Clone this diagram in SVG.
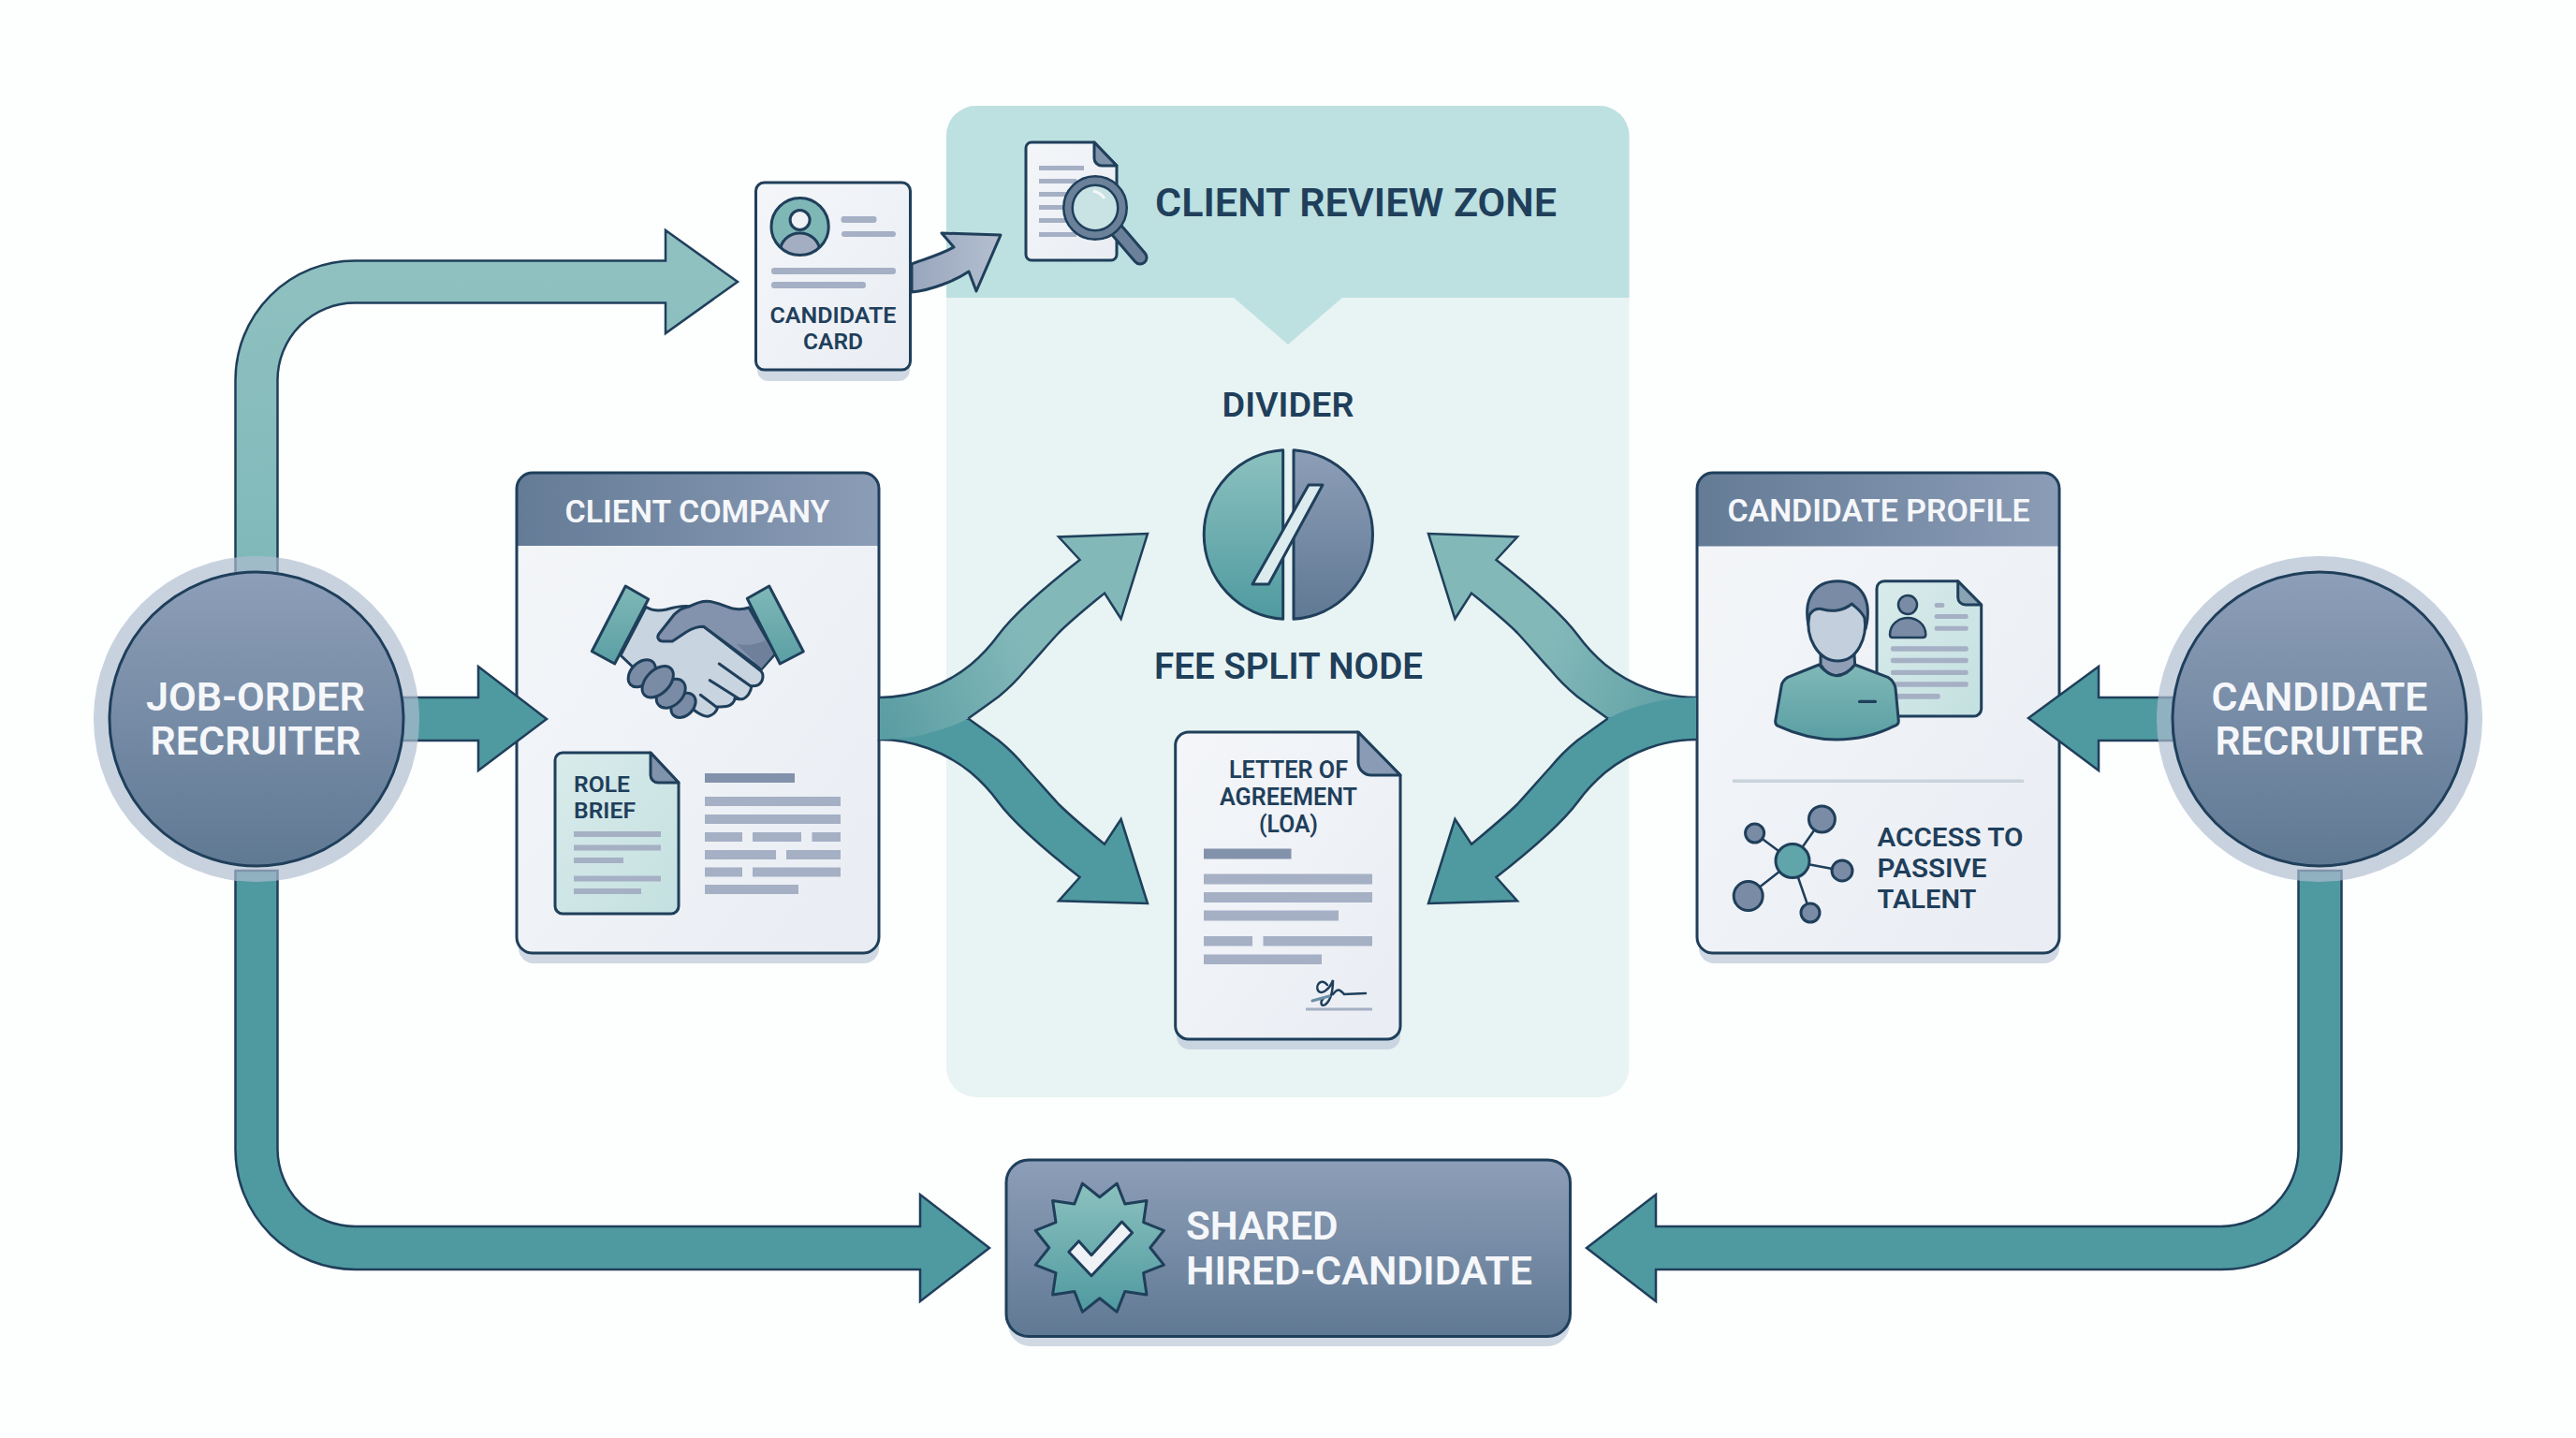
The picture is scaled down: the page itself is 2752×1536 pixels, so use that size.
<svg xmlns="http://www.w3.org/2000/svg" width="2752" height="1536" viewBox="0 0 2752 1536">
<defs>
<linearGradient id="slateV" x1="0" y1="0" x2="0" y2="1"><stop offset="0" stop-color="#8d9eb8"/><stop offset="1" stop-color="#607993"/></linearGradient>
<linearGradient id="slateH" x1="0" y1="0" x2="1" y2="0"><stop offset="0" stop-color="#647b96"/><stop offset="1" stop-color="#8b9cb6"/></linearGradient>
<linearGradient id="tealV" x1="0" y1="0" x2="0" y2="1"><stop offset="0" stop-color="#8cc1bf"/><stop offset="1" stop-color="#4f9aa0"/></linearGradient>
<linearGradient id="tealB" x1="0" y1="0" x2="0" y2="1"><stop offset="0" stop-color="#80b8b7"/><stop offset="1" stop-color="#5a9fa4"/></linearGradient>
<linearGradient id="tealTop" gradientUnits="userSpaceOnUse" x1="0" y1="278" x2="0" y2="630"><stop offset="0" stop-color="#8fc1c0"/><stop offset="1" stop-color="#7fb8b9"/></linearGradient>
<linearGradient id="forkLight" gradientUnits="userSpaceOnUse" x1="940" y1="770" x2="1100" y2="700"><stop offset="0" stop-color="#5a9da3"/><stop offset="1" stop-color="#83b8b9"/></linearGradient>
<linearGradient id="mint" x1="0" y1="0" x2="1" y2="1"><stop offset="0" stop-color="#d9ebeb"/><stop offset="1" stop-color="#c4e0e0"/></linearGradient>
<linearGradient id="paper" x1="0" y1="0" x2="1" y2="1"><stop offset="0" stop-color="#f4f6f9"/><stop offset="1" stop-color="#e9edf3"/></linearGradient>
<linearGradient id="lav" x1="0" y1="0" x2="1" y2="0"><stop offset="0" stop-color="#98a6bd"/><stop offset="1" stop-color="#b4bfd0"/></linearGradient>
<clipPath id="avClip"><ellipse cx="854.6" cy="242" rx="30" ry="30"/></clipPath>
<style>
text{font-family:"Roboto","Liberation Sans",sans-serif;font-weight:600;fill:#1f3f5b}
.w{fill:#f5f7fa}
.m{text-anchor:middle}
.o{stroke:#1f3f5b;stroke-width:3;stroke-linejoin:round}
.n{fill:none;stroke:#1f3f5b;stroke-width:3;stroke-linejoin:round;stroke-linecap:round}
.ol{stroke:#1f3f5b;stroke-width:2.5;stroke-linejoin:miter}
.ln{fill:none;stroke:#1f3f5b;stroke-width:2.5;stroke-linejoin:miter}
.bar{fill:#a5b0c5}
.bar2{fill:#8392ab}
.sh{fill:#cfd8e3}
.ring{fill:#aebdd0;fill-opacity:.68}
</style>
</defs>
<rect width="2752" height="1536" fill="#fdfefe"/>

<g id="client-review-zone">
<rect x="1011" y="113" width="729.500" height="1059" rx="32" fill="#e8f4f3"/>
<path d="M1011 318V145a32 32 0 0 1 32-32H1708.500a32 32 0 0 1 32 32V318H1434L1376 368L1318 318Z" fill="#bde0e1"/>
<text x="1234" y="231" font-size="43" textLength="429" lengthAdjust="spacingAndGlyphs">CLIENT REVIEW ZONE</text>
<g id="review-icon">
<path class="o" d="M1096 158a6 6 0 0 1 6-6H1169L1193 177V272a6 6 0 0 1-6 6H1102a6 6 0 0 1-6-6Z" fill="url(#paper)"/>
<path class="o" d="M1169 152L1193 177H1177a8 8 0 0 1-8-8Z" fill="#7f93aa"/>
<rect class="bar" x="1110" y="177" width="48" height="5"/><rect class="bar" x="1110" y="191" width="40" height="5"/><rect class="bar" x="1110" y="205" width="30" height="5"/><rect class="bar" x="1110" y="219" width="26" height="5"/><rect class="bar" x="1110" y="233" width="30" height="5"/><rect class="bar" x="1110" y="248" width="40" height="5"/>
<path d="M1194 247L1218 275" stroke="#1f3f5b" stroke-width="17" stroke-linecap="round"/>
<path d="M1194 247L1218 275" stroke="#6b8199" stroke-width="11" stroke-linecap="round"/>
<circle cx="1170" cy="222" r="29" fill="#c9e3e4" stroke="#1f3f5b" stroke-width="12"/>
<circle cx="1170" cy="222" r="29" fill="none" stroke="#6b8199" stroke-width="7"/>
<path d="M1168 204a19 19 0 0 1 12 8" fill="none" stroke="#f4f7fa" stroke-width="3"/>
</g>
</g>

<g id="candidate-card">
<rect class="sh" x="809" y="210" width="163" height="197" rx="12"/>
<rect class="o" x="807.500" y="195" width="165" height="200" rx="9" fill="url(#paper)"/>
<g clip-path="url(#avClip)"><circle cx="854.600" cy="242" r="31" fill="#7fb7b6"/><ellipse cx="854.600" cy="268" rx="21" ry="19" fill="#a4aec2" stroke="#1f3f5b" stroke-width="3"/></g>
<ellipse cx="854.600" cy="242" rx="30.600" ry="30.600" fill="none" stroke="#1f3f5b" stroke-width="3"/>
<circle cx="854.600" cy="235" r="10.500" fill="#eef1f6" stroke="#1f3f5b" stroke-width="3"/>
<rect class="bar" x="898.500" y="231" width="38" height="7" rx="3"/><rect class="bar" x="899" y="247" width="58" height="6" rx="3"/><rect class="bar" x="824" y="286" width="133" height="7" rx="3"/><rect class="bar" x="824" y="301" width="101" height="7" rx="3"/>
<text class="m" x="890" y="345" font-size="23.500" textLength="135" lengthAdjust="spacingAndGlyphs">CANDIDATE</text>
<text class="m" x="890" y="373" font-size="23.500" textLength="64" lengthAdjust="spacingAndGlyphs">CARD</text>
</g>

<g id="client-company">
<rect class="sh" x="554" y="520" width="385" height="509" rx="16"/>
<rect x="552" y="505" width="387" height="513" rx="17" fill="url(#paper)"/>
<path d="M552 583V522a17 17 0 0 1 17-17H922a17 17 0 0 1 17 17V583Z" fill="url(#slateH)"/>
<rect class="o" x="552" y="505" width="387" height="513" rx="17" fill="none"/>
<text class="w m" x="745" y="557.500" font-size="33" textLength="283" lengthAdjust="spacingAndGlyphs">CLIENT COMPANY</text>
<g id="handshake">
<path class="n" style="fill:#c8d4e0" d="M690 648.300C696 652 704 653 712 651C722 648 730 647 737 647.700L753 670L813 716.700C816 720 816 728 810 731.700C807 733 805 733 802.700 732.700C803 737 799 745 793 746.700C790 747 787 747 785 746C785 750 781 753 778 754C774 755 770 755 766.700 755C766 759 763 763 757 765C752 766 746 762 740.700 758L676.700 713L663 700Z"/>
<path class="n" style="fill:#8393ad" d="M800 649C794 651 788 651 783 650C775 648 765 642.300 755 642.300C748 642.300 742 645 736.700 647.700C727 650 725 652 720 656.700L704 677C701 681 704 685 708.300 685H718.300L733.300 675C740 671 746 669.300 751.700 669.300L813.300 715L828.300 698.300Z"/>
<path d="M787 688C800 690 810 688 817 684L827 698L813.300 714Z" fill="#6f809b"/>
<path class="n" d="M768.300 709L801.700 732.700M758.300 726.700L790 746.700M748.300 742.300L765 755"/>
<g fill="#7a8ba5" stroke="#1f3f5b" stroke-width="3"><ellipse cx="730" cy="753.300" rx="15" ry="11" transform="rotate(-45 730 753.300)"/><ellipse cx="716.700" cy="740.700" rx="18" ry="12.500" transform="rotate(-45 716.700 740.700)"/><ellipse cx="685.700" cy="719.300" rx="17" ry="11.500" transform="rotate(-45 685.700 719.300)"/><ellipse cx="702.700" cy="728.300" rx="20" ry="12.500" transform="rotate(-45 702.700 728.300)"/></g>
<path class="o" fill="url(#tealB)" d="M668.300 626L692.700 640L656.700 709L632.300 695.700Z"/>
<path class="o" fill="url(#tealB)" d="M821.700 626L798.300 639.300L833.300 709L858.300 696Z"/>
</g>
<g id="role-brief">
<path class="o" d="M593 812a8 8 0 0 1 8-8H695L725 836V968a8 8 0 0 1-8 8H601a8 8 0 0 1-8-8Z" fill="url(#mint)"/>
<path class="o" d="M695 804L725 836H703a8 8 0 0 1-8-8Z" fill="#7f93aa"/>
<text x="613" y="845.500" font-size="24" textLength="60" lengthAdjust="spacingAndGlyphs">ROLE</text><text x="613" y="873.500" font-size="24" textLength="66" lengthAdjust="spacingAndGlyphs">BRIEF</text>
<rect class="bar" x="613" y="888" width="93" height="6"/><rect class="bar" x="613" y="902.500" width="93" height="6"/><rect class="bar" x="613" y="916" width="53" height="6"/><rect class="bar" x="613" y="935.500" width="93" height="6"/><rect class="bar" x="613" y="949" width="72" height="6"/>
</g>
<rect class="bar2" x="753" y="826" width="96" height="10"/>
<rect class="bar" x="753" y="851" width="145" height="10"/><rect class="bar" x="753" y="870" width="145" height="10"/>
<rect class="bar" x="753" y="889" width="40" height="10"/><rect class="bar" x="804" y="889" width="52" height="10"/><rect class="bar" x="867.500" y="889" width="30.500" height="10"/>
<rect class="bar" x="753" y="908" width="76" height="10"/><rect class="bar" x="840" y="908" width="58" height="10"/>
<rect class="bar" x="753" y="926.500" width="40" height="10"/><rect class="bar" x="804" y="926.500" width="94" height="10"/>
<rect class="bar" x="753" y="945" width="100" height="10"/>
</g>

<g id="candidate-profile">
<rect class="sh" x="1815" y="520" width="385" height="509" rx="16"/>
<rect x="1813" y="505" width="387" height="513" rx="17" fill="url(#paper)"/>
<path d="M1813 583.500V522a17 17 0 0 1 17-17H2183a17 17 0 0 1 17 17V583.500Z" fill="url(#slateH)"/>
<rect class="o" x="1813" y="505" width="387" height="513" rx="17" fill="none"/>
<text class="w m" x="2007" y="557" font-size="33" textLength="323" lengthAdjust="spacingAndGlyphs">CANDIDATE PROFILE</text>
<g id="profile-doc">
<path class="o" d="M2005 628.700a8 8 0 0 1 8-8H2091.700L2116.700 646V757a8 8 0 0 1-8 8H2013a8 8 0 0 1-8-8Z" fill="url(#mint)"/>
<path class="o" d="M2091.700 620.700L2116.700 646H2100a8 8 0 0 1-8.300-8Z" fill="#8aa3b3"/>
<circle cx="2038" cy="646" r="10" fill="#7a8ba5" stroke="#1f3f5b" stroke-width="2.500"/>
<path d="M2019 678C2019 667 2028 660 2038 660C2048 660 2057.300 667 2057.300 678C2057.300 680 2056 681 2054 681H2022C2020 681 2019 680 2019 678Z" fill="#7a8ba5" stroke="#1f3f5b" stroke-width="2.500"/>
<g class="bar"><rect x="2066.700" y="644" width="10.600" height="5" rx="2"/><rect x="2066.700" y="656" width="36" height="5" rx="2"/><rect x="2066.700" y="668.700" width="36" height="5" rx="2"/><rect x="2020" y="690.300" width="82.700" height="5.400" rx="2"/><rect x="2020" y="702.700" width="82.700" height="5.600" rx="2"/><rect x="2020" y="715.700" width="82.700" height="5.300" rx="2"/><rect x="2020" y="728.300" width="82.700" height="5.400" rx="2"/><rect x="2020" y="741" width="52.700" height="5.700" rx="2"/></g>
</g>
<g id="person">
<path class="o" fill="#8f9eb5" d="M1945 695V710C1950 718 1955 721.700 1961.700 721.700C1970 721.700 1977 716 1981.700 710L1980.700 695Z"/>
<path class="o" d="M1943.300 710L1910 723.300C1906 726 1904 729 1903.300 731.700L1896.700 770C1896.500 773 1898 775 1900 775.700C1920 785 1940 790 1961.700 790C1985 790 2005 785 2023.300 775.700C2026 775 2028.300 773 2028.300 770L2025 735C2024 730 2021 726 2016.700 723.300L1981.700 710C1977 716 1970 721.700 1961.700 721.700C1955 721.700 1950 718 1943.300 710Z" fill="url(#tealB)"/>
<path class="o" fill="#7a8ba5" d="M1933 672C1925 640 1938 620.700 1963.300 620.700C1988 620.700 2001 640 1993 672Z"/>
<path class="o" fill="#c3cfdc" d="M1933 657C1937 650 1942 649 1948 651C1958 654 1970 652 1978.300 645C1984 650 1988 652 1992 660C1995 680 1985 706 1963.300 706C1942 706 1928 680 1933 657Z"/>
<rect x="1985" y="747.700" width="20" height="3.200" rx="1.500" fill="#1f3f5b"/>
</g>
<rect x="1851" y="832.500" width="311" height="3.500" fill="#c9d3dc"/>
<g id="network">
<g stroke="#1f3f5b" stroke-width="2.500"><path d="M1915 920L1946.400 875M1915 920L1874.600 890M1915 920L1968 930M1915 920L1867.700 957M1915 920L1934 975"/></g>
<g fill="#7a8ba5" stroke="#1f3f5b" stroke-width="3"><circle cx="1946.400" cy="875" r="14"/><circle cx="1874.600" cy="890" r="10"/><circle cx="1968" cy="930" r="11"/><circle cx="1867.700" cy="957" r="15.500"/><circle cx="1934" cy="975" r="10"/></g>
<circle cx="1915" cy="919.600" r="18" fill="#5fa5a9" stroke="#1f3f5b" stroke-width="3"/>
</g>
<text x="2005.500" y="903.500" font-size="28" textLength="156" lengthAdjust="spacingAndGlyphs">ACCESS TO</text><text x="2005.500" y="936.500" font-size="28" textLength="117" lengthAdjust="spacingAndGlyphs">PASSIVE</text><text x="2005.500" y="969.500" font-size="28" textLength="106" lengthAdjust="spacingAndGlyphs">TALENT</text>
</g>

<g id="fee-split">
<text class="m" x="1376" y="445" font-size="37.500" textLength="141" lengthAdjust="spacingAndGlyphs">DIVIDER</text>
<path class="o" fill="url(#tealV)" d="M1370.700 480.700A90.500 90.500 0 0 0 1370.700 661.300Z"/>
<path class="o" fill="url(#slateV)" d="M1382 480.700A90.500 90.500 0 0 1 1382 661.300Z"/>
<path class="o" fill="#dcecee" d="M1398 518H1413L1355.400 624H1338Z"/>
<text class="m" x="1376.500" y="725" font-size="38" textLength="287" lengthAdjust="spacingAndGlyphs">FEE SPLIT NODE</text>
</g>

<g id="loa">
<rect x="1257" y="860" width="239" height="261" rx="14" fill="#c9d6e2"/>
<path class="o" d="M1255.700 796a14 14 0 0 1 14-14H1451L1496 828V1096a14 14 0 0 1-14 14H1269.700a14 14 0 0 1-14-14Z" fill="url(#paper)"/>
<path class="o" d="M1451 782L1496 828H1465a14 14 0 0 1-14-14Z" fill="#8a9bb5"/>
<text class="m" x="1376.500" y="831" font-size="25" textLength="127" lengthAdjust="spacingAndGlyphs">LETTER OF</text><text class="m" x="1376.500" y="859.500" font-size="25" textLength="147" lengthAdjust="spacingAndGlyphs">AGREEMENT</text><text class="m" x="1376.500" y="888.500" font-size="25" textLength="63" lengthAdjust="spacingAndGlyphs">(LOA)</text>
<rect class="bar2" x="1286" y="906.500" width="93.500" height="11"/>
<rect class="bar" x="1286" y="933.500" width="180" height="11"/><rect class="bar" x="1286" y="953" width="180" height="11"/><rect class="bar" x="1286" y="972.500" width="144" height="11"/>
<rect class="bar" x="1286" y="1000" width="52" height="10.500"/><rect class="bar" x="1349.500" y="1000" width="116.500" height="10.500"/><rect class="bar" x="1286" y="1019.500" width="126" height="10.500"/>
<path d="M1418 1052C1412 1044 1405 1052 1408 1058C1411 1063 1420 1058 1424 1047C1424 1058 1422 1068 1416 1073C1411 1076 1410 1070 1414 1066M1424 1062C1430 1054 1432 1058 1436 1062L1459 1061" fill="none" stroke="#1f3f5b" stroke-width="2.500" stroke-linecap="round"/>
<path d="M1402 1069L1420 1064" stroke="#6b8fa5" stroke-width="3" stroke-linecap="round"/>
<rect class="bar" x="1395" y="1076.500" width="71" height="3"/>
</g>

<g id="shared-hired-candidate">
<rect class="sh" x="1077" y="1255" width="600" height="183" rx="24"/>
<rect class="o" x="1075" y="1239" width="602.500" height="188.500" rx="24" fill="url(#slateV)"/>
<path class="o" fill="url(#tealV)" d="M1156.400 1264.100L1174.800 1278.700L1193.200 1264.100L1201.800 1286L1225 1282.500L1221.600 1305.700L1243.400 1314.300L1228.800 1332.700L1243.400 1351.100L1221.600 1359.700L1225 1382.900L1201.800 1379.400L1193.200 1401.300L1174.800 1386.700L1156.400 1401.300L1147.800 1379.400L1124.600 1382.900L1128 1359.700L1106.200 1351.100L1120.800 1332.700L1106.200 1314.300L1128 1305.700L1124.600 1282.500L1147.800 1286Z"/>
<path class="o" fill="#eef2f6" d="M1198.500 1305L1209.600 1316.700L1166 1362.700L1141.800 1337.300L1152.500 1325.700L1166 1340.700Z"/>
<text class="w" x="1267" y="1324" font-size="42" textLength="162.500" lengthAdjust="spacingAndGlyphs">SHARED</text><text class="w" x="1267" y="1371.500" font-size="42" textLength="370" lengthAdjust="spacingAndGlyphs">HIRED-CANDIDATE</text>
</g>

<g id="connectors">
<path id="c-top" class="ol" fill="url(#tealTop)" d="M251.500 630V406A127.500 127.500 0 0 1 379 278.500H711V246L788 301L711 356V323.500H379A82.500 82.500 0 0 0 296.500 406V630Z"/>
<path id="c-bottom-left" class="ol" fill="#4f9aa0" d="M251.500 930V1228A128 128 0 0 0 379.500 1356H983V1390L1057 1333L983 1276V1310H379.500A83 83 0 0 1 296.500 1228V930Z"/>
<path id="c-bottom-right" class="ol" fill="#4f9aa0" d="M2455.500 930V1228A83 83 0 0 1 2372.500 1310H1769V1276L1695 1333L1769 1390V1356H2372.500A128 128 0 0 0 2501.500 1228V930Z"/>
<path id="c-left" class="ol" fill="#4f9aa0" d="M430 745H511V712L584 768L511 823V791H430Z"/>
<path id="c-right" class="ol" fill="#4f9aa0" d="M2322 745H2242V712L2167 767L2242 823V791H2322Z"/>
<path id="c-card" class="o" fill="url(#lav)" d="M974 282C987 277 1005 272 1019 264L1006 249L1069 251L1043 311L1035 290C1020 300 995 310 974 312Z"/>
<g id="fork-left">
<path class="ol" fill="#4f9aa0" d="M940 790C975 790 1010 803 1037 825C1050 836 1058 845 1066 856C1080 875 1110 903 1153.600 937L1131 962.300L1226 965L1197.600 875L1180 901.700C1160 885 1145 873 1131 859C1118 845 1108 833 1096 820C1087 809 1078 800 1067 791C1056 783 1045 775 1034.400 767.400L960 770Z"/>
<path fill="url(#forkLight)" d="M940 745C975 745 1010 732 1037 710C1050 699 1058 690 1066 679C1080 660 1110 632 1153.600 598L1131 573.500L1226 570L1197.600 661L1180 633.600C1160 650 1145 662 1131 676C1118 690 1108 702 1096 715C1087 726 1078 735 1067 744C1056 752 1045 760 1034.400 767.400C1010 780 975 790 940 790Z"/>
<path class="ln" d="M940 745C975 745 1010 732 1037 710C1050 699 1058 690 1066 679C1080 660 1110 632 1153.600 598L1131 573.500L1226 570L1197.600 661L1180 633.600C1160 650 1145 662 1131 676C1118 690 1108 702 1096 715C1087 726 1078 735 1067 744C1056 752 1045 760 1034.400 767.400"/>
</g>
<g id="fork-right" transform="matrix(-1 0 0 1 2752 0)">
<path class="ol" fill="url(#forkLight)" d="M940 745C975 745 1010 732 1037 710C1050 699 1058 690 1066 679C1080 660 1110 632 1153.600 598L1131 573.500L1226 570L1197.600 661L1180 633.600C1160 650 1145 662 1131 676C1118 690 1108 702 1096 715C1087 726 1078 735 1067 744C1056 752 1045 760 1034.400 767.400L960 770Z"/>
<path fill="#4f9aa0" d="M940 790C975 790 1010 803 1037 825C1050 836 1058 845 1066 856C1080 875 1110 903 1153.600 937L1131 962.300L1226 965L1197.600 875L1180 901.700C1160 885 1145 873 1131 859C1118 845 1108 833 1096 820C1087 809 1078 800 1067 791C1056 783 1045 775 1034.400 767.400C1010 755 975 745 940 745Z"/>
<path class="ln" d="M940 790C975 790 1010 803 1037 825C1050 836 1058 845 1066 856C1080 875 1110 903 1153.600 937L1131 962.300L1226 965L1197.600 875L1180 901.700C1160 885 1145 873 1131 859C1118 845 1108 833 1096 820C1087 809 1078 800 1067 791C1056 783 1045 775 1034.400 767.400"/>
</g>
</g>

<g id="job-order-recruiter">
<circle class="ring" cx="274" cy="768" r="174"/>
<circle class="o" cx="274" cy="768" r="157" fill="url(#slateV)"/>
<text class="w m" x="273" y="758.500" font-size="42" textLength="234" lengthAdjust="spacingAndGlyphs">JOB-ORDER</text><text class="w m" x="273" y="806" font-size="42" textLength="225" lengthAdjust="spacingAndGlyphs">RECRUITER</text>
</g>
<g id="candidate-recruiter">
<circle class="ring" cx="2478" cy="768" r="174"/>
<circle class="o" cx="2478" cy="768" r="157" fill="url(#slateV)"/>
<text class="w m" x="2478" y="758.500" font-size="42" textLength="231" lengthAdjust="spacingAndGlyphs">CANDIDATE</text><text class="w m" x="2478" y="806" font-size="42" textLength="223" lengthAdjust="spacingAndGlyphs">RECRUITER</text>
</g>
</svg>
